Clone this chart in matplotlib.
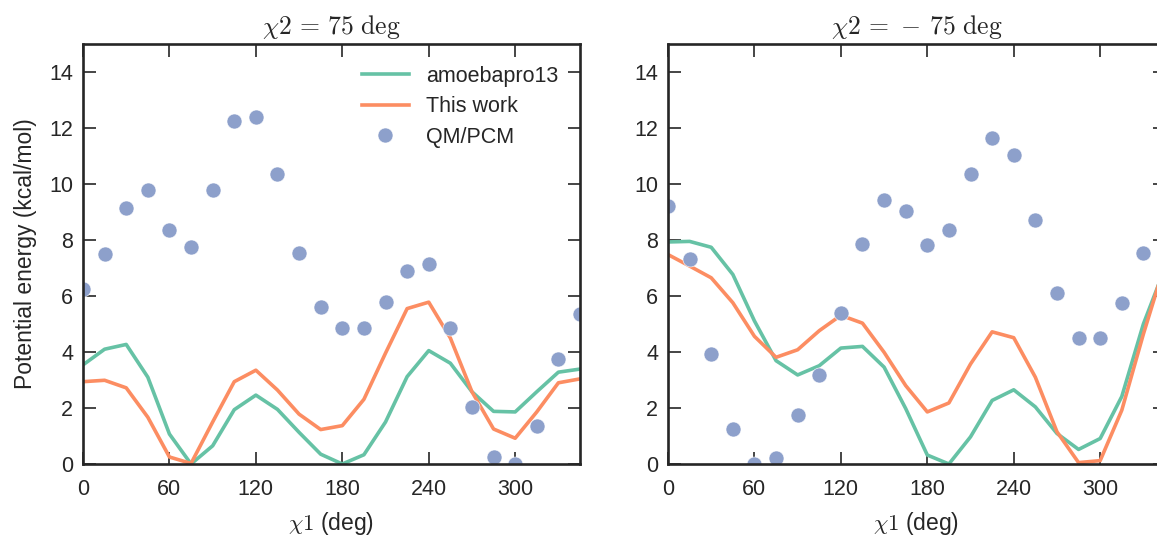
import matplotlib
matplotlib.use('agg')
import matplotlib.pyplot as plt

# Data (kcal/mol) on a 15 degree chi1 grid
chi1 = list(range(0, 360, 15))

# chi2 = 75 deg
qm_p75 = [6.25, 7.5, 9.15, 9.8, 8.35, 7.75, 9.8, 12.25, 12.4, 10.35, 7.55, 5.6,
          4.85, 4.85, 5.8, 6.9, 7.15, 4.85, 2.05, 0.25, 0.0, 1.35, 3.75, 5.35]
amoeba_p75 = [3.54, 4.1, 4.27, 3.1, 1.07, 0.0, 0.65, 1.94, 2.46, 1.95, 1.13, 0.35,
              0.0, 0.33, 1.5, 3.12, 4.05, 3.6, 2.58, 1.88, 1.86, 2.58, 3.28, 3.39]
work_p75 = [2.94, 2.99, 2.72, 1.67, 0.25, 0.02, 1.5, 2.94, 3.35, 2.64, 1.78, 1.23,
            1.37, 2.31, 3.96, 5.55, 5.78, 4.5, 2.58, 1.25, 0.92, 1.86, 2.9, 3.04]

# chi2 = -75 deg
qm_m75 = [9.22, 7.31, 3.94, 1.25, 0.0, 0.2, 1.76, 3.18, 5.4, 7.86, 9.44, 9.02,
          7.81, 8.37, 10.36, 11.66, 11.03, 8.71, 6.12, 4.5, 4.49, 5.74, 7.54, 8.7]
amoeba_m75 = [7.93, 7.95, 7.74, 6.77, 5.11, 3.69, 3.18, 3.51, 4.14, 4.2, 3.46, 1.98,
              0.32, 0.0, 0.97, 2.27, 2.65, 2.04, 1.09, 0.52, 0.91, 2.41, 5.0, 7.0]
work_m75 = [7.48, 7.07, 6.65, 5.76, 4.56, 3.81, 4.08, 4.76, 5.31, 5.03, 3.99, 2.8,
            1.86, 2.18, 3.57, 4.72, 4.51, 3.1, 1.15, 0.05, 0.12, 1.92, 4.64, 7.15]

panels = [
    (r'$\chi2\,=\,75\ \mathrm{deg}$', amoeba_p75, work_p75, qm_p75),
    (r'$\chi2\,=\,-\,75\ \mathrm{deg}$', amoeba_m75, work_m75, qm_m75),
]

GREEN = '#66c2a5'
ORANGE = '#fc8d62'
BLUE = '#8da0cb'
DARK = '#262626'

plt.rcParams['font.family'] = ['Liberation Sans', 'DejaVu Sans']
plt.rcParams['mathtext.fontset'] = 'cm'
plt.rcParams['text.color'] = DARK
plt.rcParams['axes.labelcolor'] = DARK
plt.rcParams['xtick.color'] = DARK
plt.rcParams['ytick.color'] = DARK

fig = plt.figure(figsize=(11.57, 5.38), dpi=100)
lefts = [83 / 1157, 668 / 1157]

for i, (title, amoeba, work, qm) in enumerate(panels):
    ax = fig.add_axes([lefts[i], 74 / 538, 497 / 1157, 420 / 538])
    ax.plot(chi1, amoeba, color=GREEN, lw=2.6, label='amoebapro13')
    ax.plot(chi1, work, color=ORANGE, lw=2.6, label='This work')
    ax.plot(chi1, qm, 'o', color=BLUE, ms=10.8, mec='white', mew=0.4,
            label='QM/PCM')

    ax.set_xlim(0, 345)
    ax.set_ylim(0, 15)
    ax.set_xticks(range(0, 301, 60))
    ax.set_yticks(range(0, 15, 2))
    ax.tick_params(direction='in', top=True, right=True, length=9, width=1.2,
                   labelsize=15.5, pad=7)
    ax.tick_params(axis='x', pad=11)
    for s in ax.spines.values():
        s.set_color(DARK)
        s.set_linewidth(1.9)

    ax.set_title(title, fontsize=18.5, pad=7)
    ax.set_xlabel(r'$\chi1$ (deg)', fontsize=16.5, labelpad=7)
    if i == 0:
        ax.set_ylabel('Potential energy (kcal/mol)', fontsize=16.5, labelpad=9)
        ax.legend(loc='upper right', frameon=False, numpoints=1, fontsize=15.5,
                  handlelength=2.2, handletextpad=0.8, labelspacing=0.45,
                  borderaxespad=0.6)

plt.savefig('out.png', dpi=100)
